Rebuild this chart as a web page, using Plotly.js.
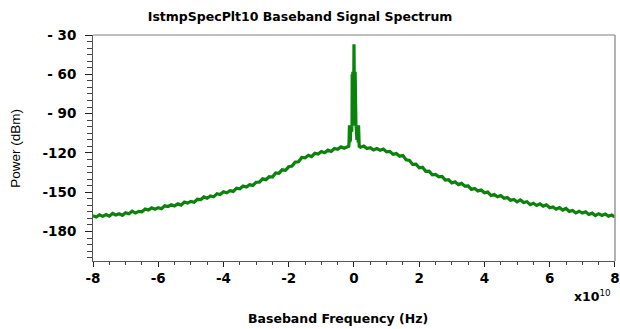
<!DOCTYPE html>
<html>
<head>
<meta charset="utf-8">
<script src="https://cdn.plot.ly/plotly-3.0.1.min.js"></script>
<style>html,body{margin:0;padding:0;background:#fff;}#chart{width:620px;height:329px;}</style>
</head>
<body>
<div id="chart"></div>
<script>
// Noise floor of the spectrum, frequency in units of 1e10 Hz
const freqMain = [
-8.0,-7.9,-7.8,-7.7,-7.6,-7.5,-7.4,-7.3,-7.2,-7.1,
-7.0,-6.9,-6.8,-6.7,-6.6,-6.5,-6.4,-6.3,-6.2,-6.1,
-6.0,-5.9,-5.8,-5.7,-5.6,-5.5,-5.4,-5.3,-5.2,-5.1,
-5.0,-4.9,-4.8,-4.7,-4.6,-4.5,-4.4,-4.3,-4.2,-4.1,
-4.0,-3.9,-3.8,-3.7,-3.6,-3.5,-3.4,-3.3,-3.2,-3.1,
-3.0,-2.9,-2.8,-2.7,-2.6,-2.5,-2.4,-2.3,-2.2,-2.1,
-2.0,-1.9,-1.8,-1.7,-1.6,-1.5,-1.4,-1.3,-1.2,-1.1,
-1.0,-0.9,-0.8,-0.7,-0.6,-0.5,-0.4,-0.3,-0.2,
0.2,0.3,0.4,0.5,0.6,0.7,0.8,0.9,
1.0,1.1,1.2,1.3,1.4,1.5,1.6,1.7,1.8,1.9,
2.0,2.1,2.2,2.3,2.4,2.5,2.6,2.7,2.8,2.9,
3.0,3.1,3.2,3.3,3.4,3.5,3.6,3.7,3.8,3.9,
4.0,4.1,4.2,4.3,4.4,4.5,4.6,4.7,4.8,4.9,
5.0,5.1,5.2,5.3,5.4,5.5,5.6,5.7,5.8,5.9,
6.0,6.1,6.2,6.3,6.4,6.5,6.6,6.7,6.8,6.9,
7.0,7.1,7.2,7.3,7.4,7.5,7.6,7.7,7.8,7.9,8.0
];
const powerMain = [
-167.9,-168.9,-167.2,-168.4,-167.0,-168.3,-166.2,-167.4,-166.5,-167.6,
-165.7,-166.4,-164.5,-165.9,-164.6,-164.9,-162.9,-163.6,-161.9,-163.0,
-161.8,-162.6,-160.4,-160.9,-159.6,-160.5,-158.9,-159.8,-157.5,-158.3,
-157.0,-157.7,-155.4,-155.7,-153.6,-154.6,-152.9,-153.5,-151.1,-151.7,
-149.6,-150.4,-148.8,-149.4,-146.9,-147.4,-145.3,-146.0,-144.2,-144.8,
-142.4,-142.3,-139.8,-140.4,-138.2,-138.4,-135.3,-135.5,-132.9,-133.3,
-130.6,-130.0,-127.0,-126.8,-123.5,-123.8,-121.8,-122.8,-120.3,-120.8,
-118.9,-119.8,-117.9,-118.9,-116.6,-117.2,-115.4,-116.4,-115.3,
-115.6,-114.8,-116.6,-116.0,-117.8,-116.7,-117.9,-117.0,
-119.2,-118.9,-121.1,-120.5,-122.5,-122.0,-125.3,-125.8,-128.8,-128.6,
-131.4,-131.0,-134.0,-133.9,-136.7,-136.4,-138.3,-137.9,-140.8,-140.5,
-142.9,-142.0,-144.2,-143.3,-145.4,-145.2,-147.8,-147.1,-149.0,-148.3,
-150.4,-149.9,-152.5,-151.8,-153.5,-152.6,-154.6,-154.1,-156.2,-155.5,
-157.3,-155.9,-157.8,-157.2,-159.5,-158.4,-160.1,-158.9,-160.6,-159.6,
-161.8,-161.2,-163.0,-161.8,-163.6,-162.4,-164.6,-163.9,-165.8,-164.5,
-165.9,-164.9,-167.0,-166.0,-167.8,-166.4,-167.7,-166.6,-168.3,-167.4,-168.9
];
// Carrier region around 0 Hz
const freqCarrier = [
-0.16,-0.15,-0.14,-0.13,-0.12,-0.11,-0.10,-0.09,-0.08,-0.07,-0.065,-0.06,
-0.055,-0.05,-0.045,-0.04,-0.035,-0.03,-0.025,-0.02,-0.015,-0.01,-0.005,0,
0.005,0.01,0.015,0.02,0.025,0.03,0.035,0.04,0.045,0.05,0.055,
0.06,0.065,0.07,0.08,0.09,0.10,0.11,0.12,0.13,0.14,0.15,0.16
];
const powerCarrier = [
-115,-111,-99,-112,-100,-111,-99,-110,-100,-104,-99,-100,
-60,-98,-59,-99,-58,-97,-59,-98,-58,-97,-60,-37,
-60,-97,-58,-98,-59,-97,-58,-99,-59,-98,-60,
-100,-99,-104,-100,-110,-99,-111,-100,-112,-99,-111,-115
];
const yTickVals = [-30,-60,-90,-120,-150,-180];
const yTickText = ['- 30','- 60','- 90','-120','-150','-180'];
const xTickVals = [-8,-6,-4,-2,0,2,4,6,8];
const xTickText = ['-8','-6','-4','-2','0','2','4','6','8'];

// merge in frequency order
const pts = [];
freqMain.forEach((f,i)=>pts.push([f,powerMain[i]]));
freqCarrier.forEach((f,i)=>pts.push([f,powerCarrier[i]]));
pts.sort((a,b)=>a[0]-b[0]);
const X = pts.map(p=>p[0]), Y = pts.map(p=>p[1]);

const fontB = 'DejaVu Sans, Verdana, sans-serif';
const fontR = 'Liberation Sans, Arial, sans-serif';
const data = [{
  x: X, y: Y, type: 'scatter', mode: 'lines',
  line: {color: '#0b820b', width: 3.2},
  hoverinfo: 'skip'
}];
const layout = {
  width: 620, height: 329,
  margin: {l: 93, r: 5, t: 35, b: 68},
  paper_bgcolor: '#fff', plot_bgcolor: '#fff',
  showlegend: false,
  title: {text: 'IstmpSpecPlt10 Baseband Signal Spectrum', x: 0.484, xanchor: 'center', y: 0.948, yanchor: 'middle',
    font: {family: fontB, size: 12.5, weight: 'bold', color: '#000'}},
  xaxis: {
    range: [-8, 8.001], tickmode: 'array', tickvals: xTickVals, ticktext: xTickText,
    ticks: 'outside', ticklen: 5, tickcolor: '#222', tickwidth: 1, ticklabeloverflow: 'allow',
    minor: {tick0: -8, dtick: 0.5, ticks: 'outside', ticklen: 3, tickcolor: '#444'},
    showgrid: false, zeroline: false,
    showline: true, linecolor: '#555', linewidth: 1,
    tickfont: {family: fontB, size: 13.5, weight: 'bold', color: '#000'}
  },
  yaxis: {
    range: [-202.5, -30], tickmode: 'array', tickvals: yTickVals, ticktext: yTickText,
    ticks: 'outside', ticklen: 7, tickcolor: '#222', tickwidth: 1, ticklabelstandoff: 6,
    minor: {tick0: -30, dtick: 5, ticks: 'outside', ticklen: 5, tickcolor: '#444'},
    showgrid: false, zeroline: false,
    showline: true, linecolor: '#555', linewidth: 1,
    tickfont: {family: fontB, size: 13.5, weight: 'bold', color: '#000'}
  },
  shapes: [
    {type: 'line', xref: 'paper', yref: 'paper', x0: 0, x1: 1, y0: 1, y1: 1, line: {color: '#aaa', width: 1.5}},
    {type: 'line', xref: 'paper', yref: 'paper', x0: 1, x1: 1, y0: 0, y1: 1, line: {color: '#999', width: 1.5}}
  ],
  annotations: [
    {xref: 'paper', yref: 'paper', x: 0.996, y: 0, xanchor: 'right', yanchor: 'top', yshift: -25,
     showarrow: false, text: '<b>x10</b><sup>10</sup>',
     font: {family: fontB, size: 12.5, color: '#000'}},
    {xref: 'paper', yref: 'paper', x: 0.4696, y: 0, xanchor: 'center', yanchor: 'middle', yshift: -57,
     showarrow: false, text: 'Baseband Frequency (Hz)',
     font: {family: fontB, size: 12.5, weight: 'bold', color: '#000'}},
    {xref: 'paper', yref: 'paper', x: -0.150, y: 0.5, xanchor: 'center', yanchor: 'middle', textangle: -90,
     showarrow: false, text: 'Power (dBm)',
     font: {family: fontR, size: 13.5, color: '#000'}}
  ]
};
Plotly.newPlot('chart', data, layout, {displayModeBar: false, staticPlot: true});
</script>
</body>
</html>
